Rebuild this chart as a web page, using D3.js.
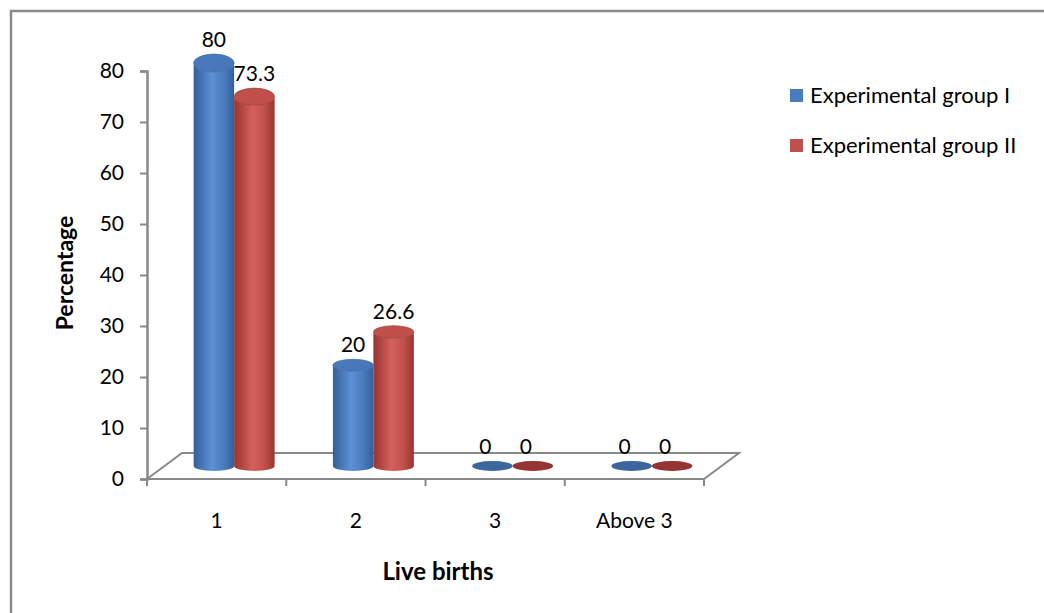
<!DOCTYPE html>
<html>
<head>
<meta charset="utf-8">
<script src="https://cdn.jsdelivr.net/npm/d3@7"></script>
<style>
  html, body { margin: 0; padding: 0; background: #fff; }
  svg { display: block; font-family: "Lato", "Open Sans", sans-serif; }
</style>
</head>
<body>
<svg id="chart" width="1044" height="613"></svg>
<script>
// Live births by group (percentage)
const categories = ["1", "2", "3", "Above 3"];
const seriesNames = ["Experimental group I", "Experimental group II"];
const groupI = [80, 20, 0, 0];
const groupII = [73.3, 26.6, 0, 0];
const yTicks = [0, 10, 20, 30, 40, 50, 60, 70, 80];

const seriesValues = [groupI, groupII];
const palette = [
  { edge: "#33609a", light: "#5d90d5", mid: "#4a7bbd", top: "#4676b9", flat: "#3c679e" },
  { edge: "#98342f", light: "#d5605b", mid: "#c0504d", top: "#c04e4a", flat: "#953533" }
];

const svg = d3.select("#chart");

// Outer chart-area frame
svg.append("rect")
  .attr("x", 11).attr("y", 11)
  .attr("width", 1100).attr("height", 700)
  .attr("fill", "none").attr("stroke", "#8a8a8a").attr("stroke-width", 2.5);

// Plot geometry: front edge of floor and depth offset
const x0 = 147, x1 = 704, yFloor = 479;
const depth = { dx: 35, dy: -26 };

const y = d3.scaleLinear().domain([0, 80]).range([yFloor, 71]);
// value scale at mid depth where cylinders stand
const yBar = d3.scaleLinear().domain([0, 80]).range([466, 63]);
const ryScale = d3.scaleLinear().domain([0, 80]).range([5, 9]);

const x = d3.scaleBand().domain(categories).range([x0, x1]);
const xs = d3.scaleBand().domain([0, 1]).range([0, x.bandwidth()]).paddingOuter(0.72);

// gradients for the cylinder bodies
const defs = svg.append("defs");
palette.forEach((c, i) => {
  const g = defs.append("linearGradient").attr("id", "body" + i)
    .attr("x1", "0%").attr("x2", "100%").attr("y1", "0%").attr("y2", "0%");
  g.append("stop").attr("offset", "0%").attr("stop-color", c.edge);
  g.append("stop").attr("offset", "45%").attr("stop-color", c.light);
  g.append("stop").attr("offset", "75%").attr("stop-color", c.mid);
  g.append("stop").attr("offset", "100%").attr("stop-color", c.edge);
  const t = defs.append("linearGradient").attr("id", "top" + i)
    .attr("x1", "0%").attr("x2", "100%").attr("y1", "0%").attr("y2", "100%");
  t.append("stop").attr("offset", "0%").attr("stop-color", c.mid);
  t.append("stop").attr("offset", "100%").attr("stop-color", c.top);
});

const axisColor = "#898989";
const fontSize = 21;

// Floor
svg.append("path")
  .attr("d", d3.line()([
    [x0, yFloor], [x0 + depth.dx, yFloor + depth.dy],
    [x1 + depth.dx, yFloor + depth.dy], [x1, yFloor], [x0, yFloor]
  ]))
  .attr("fill", "none").attr("stroke", axisColor).attr("stroke-width", 2);

// Y axis
const yAxis = d3.axisLeft(y).tickValues(yTicks).tickSize(7).tickPadding(16);
const gy = svg.append("g").attr("transform", `translate(${x0},0)`).call(yAxis);
gy.select(".domain").attr("stroke", axisColor).attr("stroke-width", 2.5);
gy.selectAll(".tick line").attr("stroke", axisColor).attr("stroke-width", 2);
gy.selectAll(".tick text").attr("font-size", fontSize).attr("fill", "#000")
  .attr("font-family", "Lato, 'Open Sans', sans-serif");

// X axis ticks (category boundaries) and labels
const xBounds = categories.map(c => x(c)).concat([x1]);
svg.append("g").selectAll("line").data(xBounds).join("line")
  .attr("x1", d => d).attr("x2", d => d)
  .attr("y1", yFloor).attr("y2", yFloor + 7)
  .attr("stroke", axisColor).attr("stroke-width", 2);
svg.append("g").selectAll("text").data(categories).join("text")
  .attr("x", d => x(d) + x.bandwidth() / 2)
  .attr("y", 528)
  .attr("text-anchor", "middle")
  .attr("font-size", fontSize)
  .text(d => d);

// Cylinders
const bars = [];
categories.forEach((c, ci) => {
  seriesValues.forEach((vals, si) => {
    bars.push({ cat: c, s: si, v: vals[ci] });
  });
});

const barG = svg.append("g");
bars.forEach(b => {
  const left = x(b.cat) + xs(b.s) + depth.dx / 2;
  const w = xs.bandwidth();
  const rx = w / 2;
  const cx = left + rx;
  const yb = yBar(0), yt = yBar(b.v);
  const ryb = ryScale(0), ryt = ryScale(b.v);
  if (b.v > 0) {
    barG.append("path")
      .attr("d", `M${left},${yt} L${left},${yb} A${rx},${ryb} 0 0 0 ${left + w},${yb} L${left + w},${yt} A${rx},${ryt} 0 0 1 ${left},${yt} Z`)
      .attr("fill", `url(#body${b.s})`);
    barG.append("ellipse")
      .attr("cx", cx).attr("cy", yt).attr("rx", rx).attr("ry", ryt)
      .attr("fill", `url(#top${b.s})`)
      .attr("stroke", palette[b.s].edge).attr("stroke-width", 0.6);
  } else {
    barG.append("ellipse")
      .attr("cx", cx).attr("cy", yb).attr("rx", rx).attr("ry", ryb)
      .attr("fill", palette[b.s].flat);
  }
  // value label
  barG.append("text")
    .attr("x", cx + (b.v === 0 ? -7 : 0))
    .attr("y", yt - ryt - 7)
    .attr("text-anchor", "middle")
    .attr("font-size", fontSize)
    .text(b.v);
});

// Axis titles
svg.append("text")
  .attr("transform", "translate(73,273) rotate(-90)")
  .attr("text-anchor", "middle")
  .attr("font-size", 23).attr("font-weight", "bold")
  .text("Percentage");
svg.append("text")
  .attr("x", 438).attr("y", 580)
  .attr("text-anchor", "middle")
  .attr("font-size", 24).attr("font-weight", "bold")
  .text("Live births");

// Legend
const legend = svg.append("g");
seriesNames.forEach((name, i) => {
  const ly = 96 + i * 50;
  legend.append("rect")
    .attr("x", 790).attr("y", ly - 7).attr("width", 13).attr("height", 13)
    .attr("fill", palette[i].mid);
  legend.append("text")
    .attr("x", 810).attr("y", ly + 7)
    .attr("font-size", 22)
    .text(name);
});
</script>
</body>
</html>
